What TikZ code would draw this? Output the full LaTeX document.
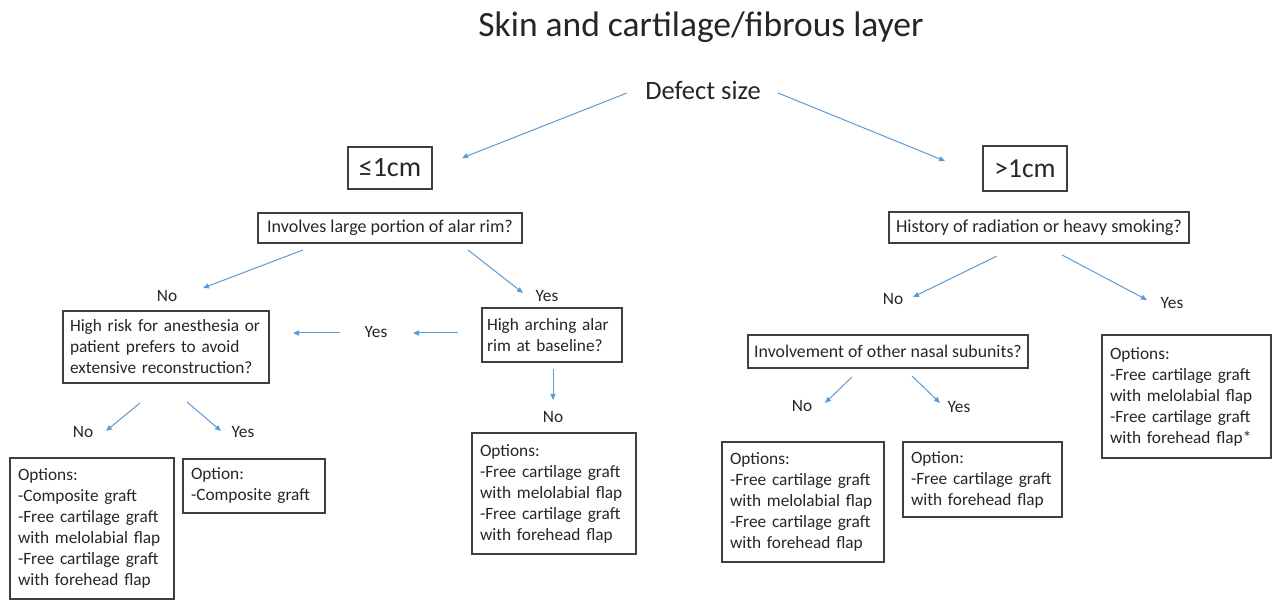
\documentclass[tikz,border=0pt]{standalone}
\usepackage{fontspec}
\setmainfont{Carlito}
\usetikzlibrary{arrows.meta}
\definecolor{arrowblue}{RGB}{91,155,213}
\definecolor{txt}{RGB}{38,38,38}
\definecolor{boxline}{RGB}{64,64,64}
\begin{document}
\begin{tikzpicture}[x=1pt,y=-1pt,
  box/.style={draw=boxline, line width=1.2pt, inner ysep=0pt, inner xsep=8pt, text=txt,
    font=\fontsize{17.3}{21}\selectfont},
  cbox/.style={box, inner xsep=0pt},
  lbl/.style={inner sep=0pt, text=txt, font=\fontsize{17.3}{21}\selectfont},
  arr/.style={draw=arrowblue, line width=1pt, -{Triangle[length=6pt,width=5pt,fill=arrowblue]}}]
\useasboundingbox (0,0) rectangle (1272,601);

% title and root
\node[anchor=base, text=txt, inner sep=0pt, font=\fontsize{35.5}{40}\selectfont] (title) at (701,37) {Skin and cartilage/fibrous layer};
\node[anchor=base, text=txt, inner sep=0pt, font=\fontsize{26.5}{30}\selectfont] (defect) at (703,100) {Defect size};

% size boxes
\node[cbox, minimum width=84pt, minimum height=42pt, font=\fontsize{28}{32}\selectfont] (small) at (390,168) {≤1cm};
\node[cbox, minimum width=84pt, minimum height=45pt, font=\fontsize{27.5}{32}\selectfont] (large) at (1025,168.5) {>1cm};

% question boxes
\node[cbox, minimum width=264pt, minimum height=30pt, font=\fontsize{18}{21}\selectfont] (alar) at (390,228) {Involves large portion of alar rim?};
\node[cbox, minimum width=300pt, minimum height=31pt, font=\fontsize{18.3}{21}\selectfont] (hist) at (1039,227.5) {History of radiation or heavy smoking?};
\node[box, inner xsep=7pt, align=left, text width=192pt, minimum height=72pt] (risk) at (166,347) {High risk for anesthesia or\\patient prefers to avoid\\extensive reconstruction?};
\node[box, inner xsep=5pt, align=left, text width=130pt, minimum height=54pt] (arch) at (552,335) {High arching alar\\rim at baseline?};
\node[cbox, minimum width=280pt, minimum height=33pt, font=\fontsize{17.8}{21}\selectfont] (subunit) at (888,351.5) {Involvement of other nasal subunits?};

% option boxes
\node[box, align=left, text width=148pt, minimum height=141pt] (optA) at (92,528.5) {Options:\\-Composite graft\\-Free cartilage graft\\with melolabial flap\\-Free cartilage graft\\with forehead flap};
\node[box, align=left, text width=126pt, minimum height=54pt] (optB) at (254,486) {Option:\\-Composite graft};
\node[box, align=left, text width=148pt, minimum height=121pt] (optC) at (554,493.5) {Options:\\-Free cartilage graft\\with melolabial flap\\-Free cartilage graft\\with forehead flap};
\node[box, align=left, text width=146pt, minimum height=120pt] (optD) at (803,502) {Options:\\-Free cartilage graft\\with melolabial flap\\-Free cartilage graft\\with forehead flap};
\node[box, align=left, text width=143pt, minimum height=75pt] (optE) at (982.5,479.5) {Option:\\-Free cartilage graft\\with forehead flap};
\node[box, align=left, text width=153pt, minimum height=123pt] (optF) at (1186.5,396.5) {Options:\\-Free cartilage graft\\with melolabial flap\\-Free cartilage graft\\with forehead flap*};

% yes / no labels
\node[lbl] (noA) at (167,296) {No};
\node[lbl] (yesA) at (547,296) {Yes};
\node[lbl] (yesB) at (376,332) {Yes};
\node[lbl] (noB) at (83,432) {No};
\node[lbl] (yesC) at (243,432) {Yes};
\node[lbl] (noC) at (553,417) {No};
\node[lbl] (noD) at (893,299) {No};
\node[lbl] (yesD) at (1172,303) {Yes};
\node[lbl] (noE) at (802,406) {No};
\node[lbl] (yesE) at (959,407) {Yes};

% arrow end points
\coordinate (a1s) at (627,93);   \coordinate (a1e) at (462,158);
\coordinate (a2s) at (778,93);   \coordinate (a2e) at (945,161);
\coordinate (a3s) at (303,250);  \coordinate (a3e) at (203,288);
\coordinate (a4s) at (468,250);  \coordinate (a4e) at (523,293);
\coordinate (a5s) at (458,333);  \coordinate (a5e) at (413,333);
\coordinate (a6s) at (340,333);  \coordinate (a6e) at (293,333);
\coordinate (a7s) at (140,403);  \coordinate (a7e) at (106,431);
\coordinate (a8s) at (187,402);  \coordinate (a8e) at (221,431);
\coordinate (a9s) at (553,369);  \coordinate (a9e) at (553,400);
\coordinate (a10s) at (997,256); \coordinate (a10e) at (913,297);
\coordinate (a11s) at (1062,255);\coordinate (a11e) at (1147,300);
\coordinate (a12s) at (852,377); \coordinate (a12e) at (825,403);
\coordinate (a13s) at (912,376); \coordinate (a13e) at (940,403);

\foreach \i in {1,...,13} {\draw[arr] (a\i s) -- (a\i e);}
\end{tikzpicture}
\end{document}
